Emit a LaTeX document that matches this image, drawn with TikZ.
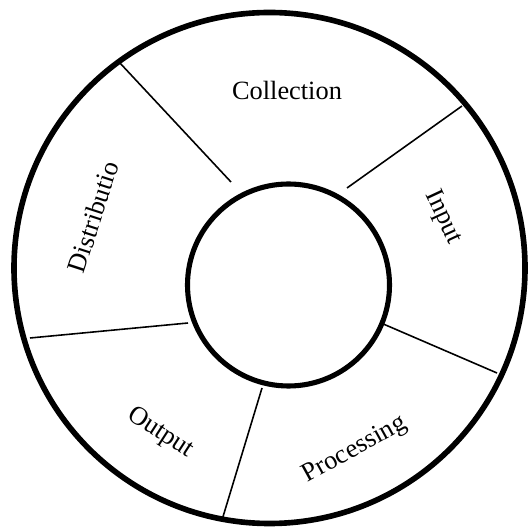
\documentclass[tikz,border=0pt]{standalone}
\usepackage{fontspec}
\setmainfont{Liberation Serif}

\begin{document}
\begin{tikzpicture}[x=0.2mm,y=0.2mm,
  stage/.style={font=\fontsize{15}{18}\selectfont,inner sep=0pt}]

\useasboundingbox (0,0) rectangle (529,529);

\coordinate (O) at (269.5,261);
\coordinate (C) at (288.5,244);

\draw[line width=3.2pt] (O) circle[radius=255.5];
\draw[line width=2.9pt] (C) circle[radius=101];

% dividers between the stages
\coordinate (a1) at (119,467); \coordinate (b1) at (231,347);
\coordinate (a2) at (462,423); \coordinate (b2) at (347,341);
\coordinate (a3) at (497,156); \coordinate (b3) at (381,206);
\coordinate (a4) at (222,9);   \coordinate (b4) at (262,141);
\coordinate (a5) at (30,191);  \coordinate (b5) at (188,206);

\foreach \i in {1,...,5}{
  \draw[line width=0.9pt] (a\i) -- (b\i);
}

\node[stage] (coll) at (287,439) {Collection};
\node[stage,rotate=-65] (inp) at (443,312) {Input};
\node[stage,rotate=29] (proc) at (355,79) {Processing};
\node[stage,rotate=-33] (outp) at (160,96) {Output};
\node[stage,rotate=72] (dist) at (93,312) {Distributio};

\end{tikzpicture}
\end{document}
